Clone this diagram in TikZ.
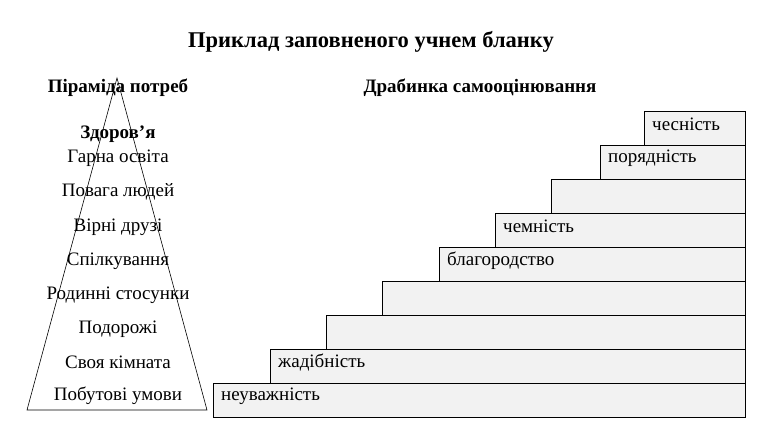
\documentclass[tikz,border=0pt]{standalone}
\usepackage{fontspec}
\setmainfont{Liberation Serif}

\begin{document}
\begin{tikzpicture}[x=1pt,y=-1pt,
  rung/.style={draw,fill=black!5,line width=0.6pt},
  rungtext/.style={anchor=west,font=\fontsize{19}{21}\selectfont,inner sep=0pt},
  needtext/.style={font=\fontsize{19}{21}\selectfont,inner sep=0pt},
  head/.style={font=\bfseries\fontsize{19}{21}\selectfont,inner sep=0pt}]
\useasboundingbox (0,0) rectangle (757,431);

\node[font=\bfseries\fontsize{22.5}{25}\selectfont] (title) at (371,42) {Приклад заповненого учнем бланку};
\node[head] (pyrhead) at (118,88) {Піраміда потреб};
\node[head] (ladhead) at (480,88) {Драбинка самооцінювання};

% pyramid
\draw[line width=0.6pt] (117,78) -- (207,410) -- (27,410) -- cycle;
\node[head] (need0) at (118,134) {Здоров’я};
\foreach \y/\txt [count=\i] in {158/Гарна освіта,192/Повага людей,227/Вірні друзі,
  261/Спілкування,295/Родинні стосунки,329/Подорожі,362/Своя кімната,396/Побутові умови}
  \node[needtext] (need\i) at (118,\y) {\txt};

% ladder
\foreach \lx/\txt [count=\i] in {213/неуважність,270/жадібність,326/,382/,439/благородство,
  495/чемність,551/,600/порядність,644/чесність} {
  \pgfmathsetmacro{\ty}{417-34*\i}
  \draw[rung] (\lx,\ty) rectangle (745,\ty+34);
  \node[rungtext] (rung\i) at (\lx+8,\ty+13.5) {\txt};
}
\end{tikzpicture}
\end{document}
